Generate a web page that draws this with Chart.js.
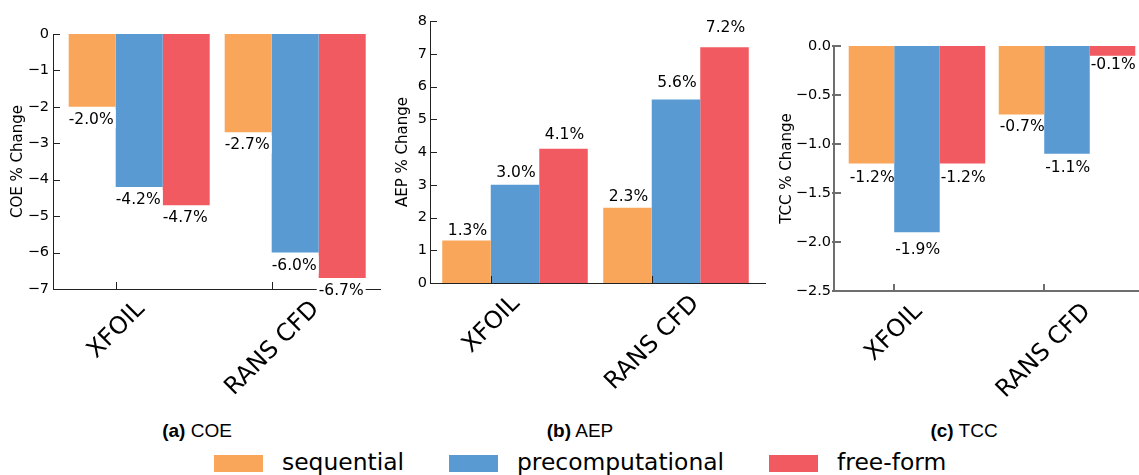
<!DOCTYPE html>
<html>
<head>
<meta charset="utf-8">
<script src="https://cdn.jsdelivr.net/npm/chart.js@4.4.1/dist/chart.umd.min.js"></script>
<style>
  html, body { margin: 0; padding: 0; background: #fff; }
  body { position: relative; width: 1139px; height: 475px; overflow: hidden; font-family: "DejaVu Sans", sans-serif; }
  canvas { position: absolute; top: 0; }
  .cap { position: absolute; top: 421px; font-family: "Liberation Sans", Arial, sans-serif; font-size: 19px;
         line-height: 20px; transform: translateX(-50%); white-space: nowrap; color: #000; }
  #legend { position: absolute; left: 214px; top: 455px; height: 17px; display: flex; align-items: center; }
  #legend .sw { width: 49px; height: 17px; margin-right: 19px; flex: none; }
  #legend .tx { font-family: "DejaVu Sans", sans-serif; font-size: 23.4px; line-height: 17px; color: #000;
                margin-right: 45px; position: relative; top: -1.5px; white-space: nowrap; }
</style>
</head>
<body>
<canvas id="coe" width="381" height="412" style="left:0px"></canvas>
<canvas id="aep" width="384" height="412" style="left:382px"></canvas>
<canvas id="tcc" width="371" height="412" style="left:768px"></canvas>
<div class="cap" style="left:197px"><b>(a)</b> COE</div>
<div class="cap" style="left:580px"><b>(b)</b> AEP</div>
<div class="cap" style="left:964px"><b>(c)</b> TCC</div>
<div id="legend"></div>

<script>
// Solvers compared on each panel
const categories = ['XFOIL', 'RANS CFD'];
const methods = ['sequential', 'precomputational', 'free-form'];
const methodColors = ['#F9A65A', '#599AD3', '#F15A60'];

// Cost of energy, % change (XFOIL, RANS CFD)
const coeSequential = [-2.0, -2.7];
const coePrecomputational = [-4.2, -6.0];
const coeFreeForm = [-4.7, -6.7];

// Annual energy production, % change
const aepSequential = [1.3, 2.3];
const aepPrecomputational = [3.0, 5.6];
const aepFreeForm = [4.1, 7.2];

// Turbine capital cost, % change
const tccSequential = [-1.2, -0.7];
const tccPrecomputational = [-1.9, -1.1];
const tccFreeForm = [-1.2, -0.1];

// Y tick values
const coeTicks = [0, -1, -2, -3, -4, -5, -6, -7];
const aepTicks = [0, 1, 2, 3, 4, 5, 6, 7, 8];
const tccTicks = [0, -0.5, -1.0, -1.5, -2.0, -2.5];

Chart.defaults.font.family = 'DejaVu Sans';
Chart.defaults.color = '#000';

const minus = s => s.replace(/-/g, '\u2212');

// Inward tick marks, rotated category labels and value labels
const panelDecor = {
  id: 'panelDecor',
  afterDraw(chart, args, o) {
    const ctx = chart.ctx;
    const area = chart.chartArea;
    const ys = chart.scales.y;
    const half = o.tickWidth % 2 ? 0.5 : 0;
    ctx.save();

    // y tick marks
    ctx.strokeStyle = o.axisColor;
    ctx.lineWidth = o.tickWidth;
    ys.ticks.forEach(t => {
      const py = Math.round(ys.getPixelForValue(t.value)) + half;
      ctx.beginPath();
      ctx.moveTo(area.left - o.tickOut, py);
      ctx.lineTo(area.left + 7, py);
      ctx.stroke();
    });

    // x tick marks sit between the first and second bar of each group
    const mid = chart.getDatasetMeta(1).data;
    const fs = 24;
    ctx.font = fs + 'px "DejaVu Sans"';
    categories.forEach((name, i) => {
      const bar = mid[i];
      const tx = Math.round(bar.x - bar.width / 2) + half;
      ctx.strokeStyle = o.axisColor;
      ctx.beginPath();
      ctx.moveTo(tx, area.bottom);
      ctx.lineTo(tx, area.bottom - 7);
      ctx.stroke();

      const w = ctx.measureText(name).width;
      const h = fs * 1.17;
      const cy = area.bottom + o.labelPad + (w + h) * Math.SQRT1_2 / 2;
      ctx.save();
      ctx.translate(tx, cy);
      ctx.rotate(-Math.PI / 4);
      ctx.fillStyle = '#000';
      ctx.textAlign = 'center';
      ctx.textBaseline = 'middle';
      ctx.fillText(name, 0, 0);
      ctx.restore();
    });

    // value labels
    ctx.font = '15.5px "DejaVu Sans"';
    ctx.textBaseline = 'alphabetic';
    chart.data.datasets.forEach((ds, k) => {
      chart.getDatasetMeta(k).data.forEach((bar, i) => {
        const v = ds.data[i].y;
        const text = v.toFixed(1) + '%';
        const tw = ctx.measureText(text).width;
        let x, y;
        if (o.labelMode === 'below') {
          x = bar.x - bar.width / 2;
          y = bar.y + 17;
        } else if (o.labelMode === 'belowScaled') {
          x = bar.x - bar.width / 2 + 1;
          y = ys.getPixelForValue(v * 1.05) + 12.5;
        } else {
          x = bar.x - tw / 2 + 1;
          y = ys.getPixelForValue(v * 1.05) - 3;
        }
        if (o.labelBox) {
          ctx.fillStyle = '#fff';
          ctx.fillRect(x - 2, y - 14, tw + 4, 18);
        }
        ctx.fillStyle = '#000';
        ctx.textAlign = 'left';
        ctx.fillText(text, x, y);
      });
    });
    ctx.restore();
  }
};

function makePanel(id, cfg) {
  const datasets = cfg.series.map((values, k) => ({
    label: methods[k],
    data: values.map((v, i) => ({ x: i, y: v })),
    backgroundColor: methodColors[k],
    borderWidth: 0,
    categoryPercentage: cfg.groupFrac,
    barPercentage: 1.0
  }));
  return new Chart(document.getElementById(id), {
    type: 'bar',
    data: { datasets },
    options: {
      responsive: false,
      devicePixelRatio: 1,
      animation: false,
      layout: { padding: { top: cfg.top, left: 0, right: 0, bottom: 0 } },
      plugins: {
        legend: { display: false },
        tooltip: { enabled: false },
        panelDecor: cfg.decor
      },
      scales: {
        x: {
          type: 'linear',
          min: cfg.xMin,
          max: cfg.xMax,
          offset: false,
          z: 1,
          // one tick per category, so bar widths follow the category spacing
          afterBuildTicks: s => { s.ticks = categories.map((c, i) => ({ value: i })); },
          grid: { display: false, drawTicks: false },
          ticks: { display: false },
          border: { display: true, color: cfg.decor.axisColor, width: cfg.decor.tickWidth },
          afterFit: s => { s.height = cfg.xAxisHeight; }
        },
        y: {
          type: 'linear',
          min: cfg.yMin,
          max: cfg.yMax,
          afterBuildTicks: s => { s.ticks = cfg.ticks.map(v => ({ value: v })); },
          grid: { display: false, drawTicks: false },
          border: { display: true, color: cfg.decor.axisColor, width: cfg.decor.tickWidth },
          ticks: {
            font: { size: 14.5 },
            color: '#000',
            padding: cfg.tickPad,
            callback: v => minus(cfg.fmt(v))
          },
          title: {
            display: true,
            text: cfg.title,
            font: { size: 15 },
            color: '#000',
            padding: { top: cfg.titlePad, bottom: 0 }
          },
          afterFit: s => { s.width = cfg.yAxisWidth; }
        }
      }
    },
    plugins: [panelDecor]
  });
}

makePanel('coe', {
  series: [coeSequential, coePrecomputational, coeFreeForm],
  ticks: coeTicks, yMin: -7, yMax: 0, fmt: v => String(v),
  title: 'COE % Change',
  top: 34, xAxisHeight: 123, yAxisWidth: 53, tickPad: 4, titlePad: 9,
  xMin: -0.5526, xMax: 1.55, groupFrac: 0.904,
  decor: { axisColor: '#222', tickWidth: 1, tickOut: 0, labelPad: 6.5, labelMode: 'below', labelBox: true }
});

makePanel('aep', {
  series: [aepSequential, aepPrecomputational, aepFreeForm],
  ticks: aepTicks, yMin: 0, yMax: 8, fmt: v => String(v),
  title: 'AEP % Change',
  top: 21, xAxisHeight: 129, yAxisWidth: 48, tickPad: 3, titlePad: 12,
  xMin: -0.528, xMax: 1.559, groupFrac: 0.904,
  decor: { axisColor: '#222', tickWidth: 1, tickOut: 0, labelPad: 7, labelMode: 'above', labelBox: false }
});

makePanel('tcc', {
  series: [tccSequential, tccPrecomputational, tccFreeForm],
  ticks: tccTicks, yMin: -2.5, yMax: 0, fmt: v => v.toFixed(1),
  title: 'TCC % Change',
  top: 46, xAxisHeight: 121, yAxisWidth: 66, tickPad: 3, titlePad: 10,
  xMin: -0.553, xMax: 1.48, groupFrac: 0.91,
  decor: { axisColor: '#6e6e6e', tickWidth: 2, tickOut: 2, labelPad: 7, labelMode: 'belowScaled', labelBox: false }
});

// Shared legend
const legend = document.getElementById('legend');
methods.forEach((m, k) => {
  const sw = document.createElement('span');
  sw.className = 'sw';
  sw.style.background = methodColors[k];
  const tx = document.createElement('span');
  tx.className = 'tx';
  tx.textContent = m;
  legend.appendChild(sw);
  legend.appendChild(tx);
});
</script>
</body>
</html>
